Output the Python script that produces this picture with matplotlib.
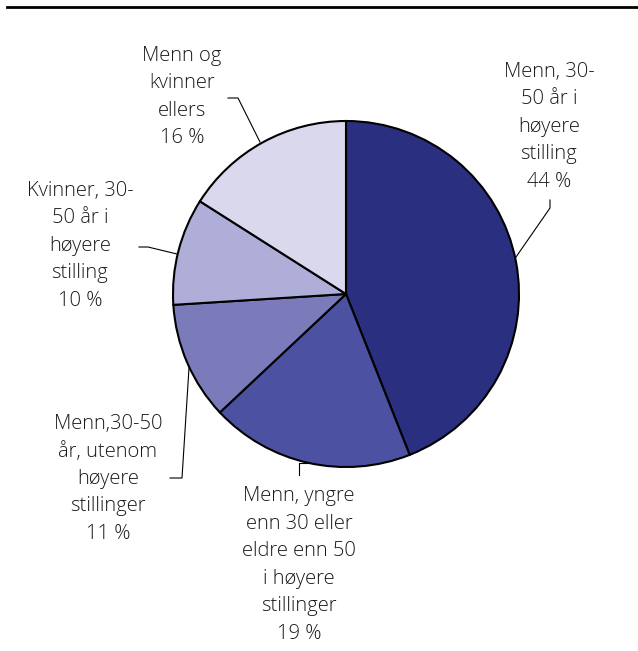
import matplotlib
matplotlib.use("Agg")
import matplotlib.pyplot as plt
from matplotlib.lines import Line2D

labels = [
    "Menn, 30-\n50 år i\nhøyere\nstilling",
    "Menn, yngre\nenn 30 eller\neldre enn 50\ni høyere\nstillinger",
    "Menn,30-50\når, utenom\nhøyere\nstillinger",
    "Kvinner, 30-\n50 år i\nhøyere\nstilling",
    "Menn og\nkvinner\nellers",
]
values = [44, 19, 11, 10, 16]
colors = ["#2B2F80", "#4C51A1", "#7B7BBC", "#AEAED8", "#D9D8EC"]

W, H = 638, 651
CX, CY, R = 346, 294, 173

def px(x, y):
    return ((x - CX) / R, (CY - y) / R)

fig = plt.figure(figsize=(W / 100, H / 100), dpi=100)
ax = fig.add_axes([0, 0, 1, 1])

ax.pie(values, colors=colors, startangle=90, counterclock=False, radius=1,
       wedgeprops=dict(edgecolor="black", linewidth=1.5))
ax.set_aspect("auto")
ax.set_xlim(-CX / R, (W - CX) / R)
ax.set_ylim(-(H - CY) / R, CY / R)
ax.axis("off")

# label text centres (pixels) and leader polylines (pixels)
label_pos = [(549, 127), (299, 565), (108, 479), (80, 246), (182, 97)]
leaders = [
    [(516, 257), (550, 208), (550, 200)],
    [(308, 463), (299, 463), (299, 475)],
    [(189, 368), (182, 478), (170, 478)],
    [(177, 254), (148, 247), (139, 247)],
    [(260, 142), (238, 98), (228, 98)],
]

for lab, v, (lx, ly), pts in zip(labels, values, label_pos, leaders):
    tx, ty = px(lx, ly)
    ax.text(tx, ty, f"{lab}\n{v} %", ha="center", va="center",
            fontsize=14.5, family="Open Sans", fontweight="light",
            color="#1a1a1a", linespacing=1.5)
    xs, ys = zip(*[px(a, b) for a, b in pts])
    ax.plot(xs, ys, color="black", lw=0.8)

fig.add_artist(Line2D([7 / W, 1], [1 - 6.5 / H, 1 - 6.5 / H],
                      color="black", lw=2.0, transform=fig.transFigure))

fig.savefig("out.png", dpi=100)
